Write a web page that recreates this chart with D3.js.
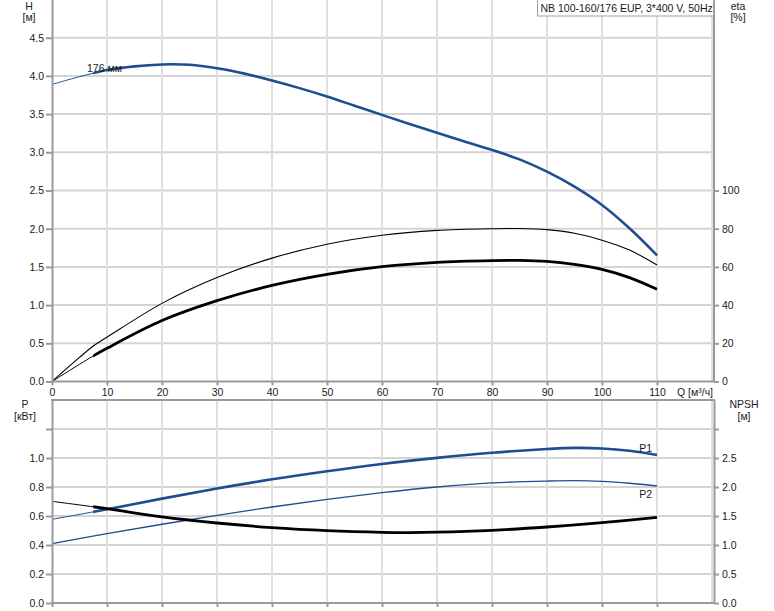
<!DOCTYPE html>
<html><head><meta charset="utf-8">
<script src="https://cdn.jsdelivr.net/npm/d3@7"></script>
<style>
body{margin:0;background:#fff}
svg{display:block}
text{font-family:"Liberation Sans",Arial,sans-serif;font-size:10.5px;fill:#1a1a1a}
</style>
</head><body>
<svg id="c" width="774" height="611"></svg>
<script>
// ---------- data ----------
const title = "NB 100-160/176 EUP, 3*400 V, 50Hz";
const curveLabel = "176 мм";
const qTicks = [0,10,20,30,40,50,60,70,80,90,100,110];
const hTicks = [0,0.5,1,1.5,2,2.5,3,3.5,4,4.5];
const etaTicks = [0,20,40,60,80,100];
const pTicks = [0,0.2,0.4,0.6,0.8,1.0,1.2];
const npshTicks = [0,0.5,1,1.5,2,2.5,3];

const headQ = [0,5,10,15,20,25,30,35,40,45,50,55,60,65,70,75,80,85,90,95,100,105,110];
const head  = [3.888,3.99,4.076,4.125,4.15,4.145,4.10,4.03,3.94,3.84,3.73,3.61,3.49,3.37,3.256,3.14,3.03,2.907,2.746,2.55,2.31,2.005,1.652];

const etaQ = [0,5,7.5,10,20,30,40,50,60,70,80,85,90,95,100,105,110];
const etaPump  = [0,12.6,18.6,23.2,40.9,54.4,64.6,71.9,76.6,79.1,80.0,80.1,79.5,77.6,74.0,68.8,61.0];
const etaTotal = [0,9.0,13.4,17.4,31.9,42.3,50.3,56.1,60.1,62.4,63.3,63.4,62.9,61.3,58.7,54.4,48.3];

const powerQ = [0,10,20,30,40,50,60,70,80,90,95,100,105,110];
const p1 = [0.577,0.646,0.72,0.789,0.853,0.909,0.959,1.001,1.036,1.062,1.070,1.066,1.05,1.021];
const p2 = [0.409,0.478,0.543,0.605,0.662,0.715,0.761,0.80,0.828,0.841,0.844,0.839,0.826,0.807];

const npshQ = [0,10,20,30,40,50,60,65,70,80,90,100,110];
const npsh  = [1.753,1.626,1.483,1.379,1.299,1.247,1.219,1.215,1.221,1.253,1.310,1.385,1.477];

const thickFrom = 7.5;

// ---------- layout ----------
const svg = d3.select("#c");
const BLUE = "#1f4e8f", AX = "#9a9a9a";
const x = d3.scaleLinear().domain([0,120]).range([52,712]);
const yH = d3.scaleLinear().domain([0,5]).range([381.5,-0.5]);
const yEta = d3.scaleLinear().domain([0,100]).range([381.5,190.5]);
const yP = d3.scaleLinear().domain([0,1.4]).range([603,400]);
const yN = d3.scaleLinear().domain([0,3.5]).range([603,400]);
const gridQ = d3.range(10,121,10);

svg.append("rect").attr("width",774).attr("height",611).attr("fill","#fff");

// grid
const g = svg.append("g");
[0.5,1,1.5,2,2.5,3,3.5,4,4.5].forEach(v=>{
  g.append("line").attr("x1",52).attr("x2",714).attr("y1",yH(v)).attr("y2",yH(v)).attr("stroke","#d4d4d4").attr("stroke-width",2);
});
[0.2,0.4,0.6,0.8,1.0,1.2].forEach(v=>{
  g.append("line").attr("x1",52).attr("x2",714).attr("y1",yP(v)).attr("y2",yP(v)).attr("stroke","#d4d4d4").attr("stroke-width",2);
});
gridQ.forEach(q=>{
  g.append("line").attr("x1",x(q)).attr("x2",x(q)).attr("y1",0).attr("y2",381.5).attr("stroke","#dfdfdf").attr("stroke-width",2);
  g.append("line").attr("x1",x(q)).attr("x2",x(q)).attr("y1",400).attr("y2",603).attr("stroke","#dfdfdf").attr("stroke-width",2);
});

// clip for thick parts
const defs = svg.append("defs");
defs.append("clipPath").attr("id","thick").append("rect")
  .attr("x",x(thickFrom)).attr("y",0).attr("width",774).attr("height",611);

function drawCurve(qs, vs, ys, color, thin, thick){
  const line = d3.line().x((d,i)=>x(qs[i])).y(d=>ys(d)).curve(d3.curveCatmullRom.alpha(0.5));
  svg.append("path").attr("d",line(vs)).attr("fill","none").attr("stroke",color).attr("stroke-width",thin);
  if(thick) svg.append("path").attr("d",line(vs)).attr("fill","none").attr("stroke",color)
    .attr("stroke-width",thick).attr("clip-path","url(#thick)");
}

drawCurve(headQ, head, yH, BLUE, 1, 2.6);
drawCurve(etaQ, etaPump, yEta, "#000", 1.1, 0);
drawCurve(etaQ, etaTotal, yEta, "#000", 1, 2.8);
drawCurve(powerQ, p2, yP, BLUE, 1.3, 0);
drawCurve(powerQ, p1, yP, BLUE, 1, 2.6);
drawCurve(npshQ, npsh, yN, "#000", 1, 2.8);

// axes
function styleAxis(sel){
  sel.select(".domain").attr("stroke",AX).attr("stroke-width",2);
  sel.selectAll(".tick line").attr("stroke",AX).attr("stroke-width",2);
  sel.selectAll(".tick text").attr("fill","#1a1a1a").style("font-size","10.5px").attr("font-family",null);
}
const f1 = d3.format(".1f");
svg.append("g").attr("transform","translate(52,0)")
  .call(d3.axisLeft(yH).tickValues(hTicks).tickFormat(f1).tickSize(6).tickPadding(2).tickSizeOuter(0)).call(styleAxis);
svg.append("g").attr("transform","translate(714,0)")
  .call(d3.axisRight(yEta).tickValues(etaTicks).tickSize(5).tickPadding(3).tickSizeOuter(0)).call(styleAxis)
  .select(".domain").attr("d","M0,-0.5V381.5");
svg.append("g").attr("transform","translate(0,381.5)")
  .call(d3.axisBottom(x).tickValues(qTicks).tickSize(4).tickPadding(3).tickSizeOuter(0)).call(styleAxis)
  .select(".domain").attr("d","M52,0H714");

svg.append("g").attr("transform","translate(52,0)")
  .call(d3.axisLeft(yP).tickValues(pTicks).tickFormat(d=>d>1.1?"":f1(d)).tickSize(6).tickPadding(2).tickSizeOuter(0)).call(styleAxis);
svg.append("g").attr("transform","translate(714,0)")
  .call(d3.axisRight(yN).tickValues(npshTicks).tickFormat(d=>d>2.9?"":f1(d)).tickSize(5).tickPadding(3).tickSizeOuter(0)).call(styleAxis);
svg.append("g").attr("transform","translate(0,603)")
  .call(d3.axisBottom(x).tickValues(qTicks).tickFormat("").tickSize(4).tickSizeOuter(0)).call(styleAxis)
  .select(".domain").attr("d","M52,0H714");
svg.append("line").attr("x1",51).attr("x2",715).attr("y1",400).attr("y2",400).attr("stroke",AX).attr("stroke-width",2);

// axis titles
function label(t, xx, yy, anchor){ return svg.append("text").attr("x",xx).attr("y",yy).attr("text-anchor",anchor||"middle").text(t); }
label("H",29,10); label("[м]",29,21);
label("eta",738,10); label("[%]",738,21);
label("P",25,408); label("[кВт]",25,420);
label("NPSH",744,408); label("[м]",744,420);
label("Q [м³/ч]",677,396,"start");

// curve labels
label(curveLabel,87,72,"start");
label("P1",652,452,"end").attr("fill",BLUE);
label("P2",652,498,"end").attr("fill",BLUE);

// title box
svg.append("rect").attr("x",537.5).attr("y",-1).attr("width",176).attr("height",17).attr("fill","#fff").attr("stroke","#a0a0a0");
label(title,540.5,12,"start");
</script>
</body></html>
